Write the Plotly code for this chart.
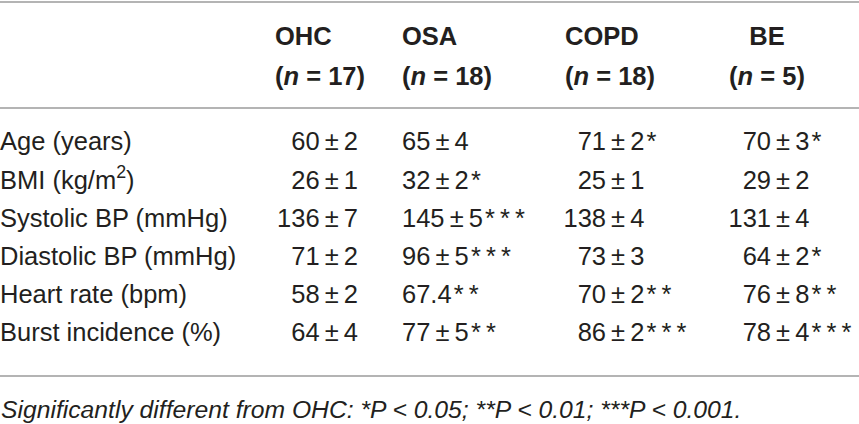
import plotly.graph_objects as go

# table content
row_labels = ["Age (years)", "BMI (kg/m<sup>2</sup>)", "Systolic BP (mmHg)",
              "Diastolic BP (mmHg)", "Heart rate (bpm)", "Burst incidence (%)"]
groups = ["OHC", "OSA", "COPD", "BE"]
group_n = [17, 18, 18, 5]

ohc_mean = ["60", "26", "136", "71", "58", "64"]
ohc_sd = ["2", "1", "7", "2", "2", "4"]
ohc_stars = [0, 0, 0, 0, 0, 0]

osa_mean = ["65", "32", "145", "96", "67.4", "77"]
osa_sd = ["4", "2", "5", "5", "", "5"]
osa_stars = [0, 1, 3, 3, 2, 2]

copd_mean = ["71", "25", "138", "73", "70", "86"]
copd_sd = ["2", "1", "4", "3", "2", "2"]
copd_stars = [1, 0, 0, 0, 2, 3]

be_mean = ["70", "29", "131", "64", "76", "78"]
be_sd = ["3", "2", "4", "2", "8", "4"]
be_stars = [1, 0, 0, 1, 2, 3]

footnote = ("Significantly different from OHC: *P < 0.05; "
            "**P < 0.01; ***P < 0.001.")

# layout settings (pixels)
W, H = 859, 424
FONT = "Liberation Sans"
FS = 25.5
INK = "#231f20"
RULE = "#b4b4b4"
ROW0, ROWH = 144, 38.2
HEAD_Y = [39, 79]
RULES_Y = [2, 108, 376]
FOOT_Y = 412
THIN = "\u2009"

# per column: header x, header anchor, value x, value alignment
cols = [
    dict(mean=ohc_mean, sd=ohc_sd, st=ohc_stars, hx=275, hpos="middle right", vx=358, mode="right"),
    dict(mean=osa_mean, sd=osa_sd, st=osa_stars, hx=402, hpos="middle right", vx=402, mode="left"),
    dict(mean=copd_mean, sd=copd_sd, st=copd_stars, hx=565, hpos="middle right", vx=606, mode="split"),
    dict(mean=be_mean, sd=be_sd, st=be_stars, hx=767, hpos="middle center", vx=771, mode="split"),
]

row_y = [ROW0 + i * ROWH for i in range(len(row_labels))]


def cell_rest(sd, k):
    stars = THIN.join(["*"] * k)
    if k:
        stars = "\u200a" + stars
    if sd == "":
        return stars
    return THIN + "±" + THIN + sd + stars


def txt(x, y, text, pos, weight="normal", style="normal", size=FS):
    return go.Scatter(
        x=x, y=y, text=text, mode="text", textposition=pos,
        textfont=dict(family=FONT, size=size, color=INK, weight=weight, style=style),
        hoverinfo="skip", showlegend=False, cliponaxis=False,
    )


fig = go.Figure()

# row labels
fig.add_trace(txt([0] * len(row_labels), row_y, row_labels, "middle right"))

for g, n, c in zip(groups, group_n, cols):
    # two-line header
    fig.add_trace(txt([c["hx"]] * 2, HEAD_Y, [g, "(<i>n</i> = " + str(n) + ")"],
                      c["hpos"], weight="bold"))
    if c["mode"] == "split":
        fig.add_trace(txt([c["vx"]] * len(row_y), row_y, c["mean"], "middle left"))
        fig.add_trace(txt([c["vx"]] * len(row_y), row_y,
                          [cell_rest(s, k) for s, k in zip(c["sd"], c["st"])], "middle right"))
    else:
        full = [m + cell_rest(s, k) for m, s, k in zip(c["mean"], c["sd"], c["st"])]
        pos = "middle left" if c["mode"] == "right" else "middle right"
        fig.add_trace(txt([c["vx"]] * len(row_y), row_y, full, pos))

fig.add_trace(txt([1], [FOOT_Y], [footnote], "middle right", style="italic", size=24.7))

for ry in RULES_Y:
    fig.add_shape(type="line", x0=0, x1=W, y0=ry, y1=ry, line=dict(color=RULE, width=2))

fig.update_layout(
    width=W, height=H,
    margin=dict(l=0, r=0, t=0, b=0),
    paper_bgcolor="white", plot_bgcolor="white",
    xaxis=dict(range=[0, W], visible=False, fixedrange=True),
    yaxis=dict(range=[H, 0], visible=False, fixedrange=True),
)

# drop the default page margin so the figure sits at the window's corner
fig.write_html("out.html", config={"displayModeBar": False},
               post_script="document.body.style.margin='0';")
